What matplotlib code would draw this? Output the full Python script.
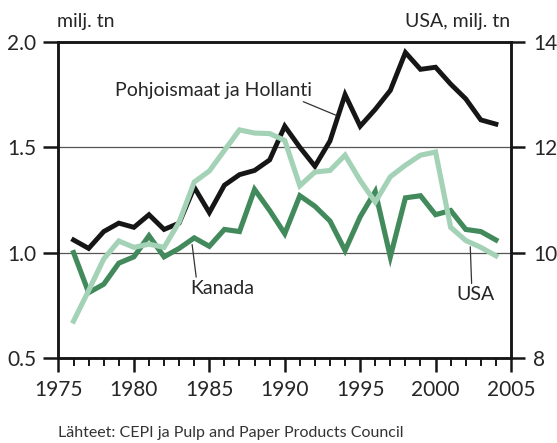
import matplotlib
matplotlib.use('Agg')
import matplotlib.pyplot as plt
from matplotlib.ticker import MultipleLocator

plt.rcParams['font.family'] = ['Lato', 'DejaVu Sans']

years = list(range(1976, 2005))
# Pohjoismaat ja Hollanti, milj. tn (left axis)
nordic = [1.06, 1.02, 1.10, 1.14, 1.12, 1.18, 1.11, 1.14, 1.31, 1.19,
          1.32, 1.37, 1.39, 1.44, 1.60, 1.50, 1.41, 1.53, 1.75, 1.60,
          1.68, 1.77, 1.95, 1.87, 1.88, 1.80, 1.73, 1.63, 1.61]
# Kanada, milj. tn (left axis)
kanada = [1.00, 0.81, 0.85, 0.95, 0.98, 1.08, 0.98, 1.02, 1.07, 1.03,
          1.11, 1.10, 1.30, 1.20, 1.09, 1.27, 1.22, 1.15, 1.01, 1.17,
          1.29, 0.98, 1.26, 1.27, 1.18, 1.20, 1.11, 1.10, 1.06]
# USA, milj. tn (right axis)
usa = [8.70, 9.28, 9.88, 10.22, 10.10, 10.16, 10.10, 10.58, 11.34, 11.55,
       11.94, 12.33, 12.27, 12.26, 12.13, 11.27, 11.53, 11.56, 11.85, 11.37,
       10.96, 11.44, 11.66, 11.85, 11.91, 10.48, 10.23, 10.10, 9.94]

left_ticks = [0.5, 1.0, 1.5, 2.0]
right_ticks = [8, 10, 12, 14]

BLACK = '#161616'
DARK_GREEN = '#428a5c'
LIGHT_GREEN = '#a3d2b6'

fig = plt.figure(figsize=(5.57, 4.43), dpi=100)
ax = fig.add_axes([0.105, 0.192, 0.8124, 0.7133])
ax2 = ax.twinx()

ax.plot(years, kanada, color=DARK_GREEN, lw=3.7, solid_joinstyle='miter')
ax.plot(years, nordic, color=BLACK, lw=3.5, solid_joinstyle='miter')
ax2.plot(years, usa, color=LIGHT_GREEN, lw=3.7, solid_joinstyle='miter')

ax.set_xlim(1975, 2005)
ax.set_ylim(0.5, 2.0)
ax2.set_ylim(8, 14)
ax.set_yticks(left_ticks)
ax.set_yticklabels(['0.5', '1.0', '1.5', '2.0'])
ax2.set_yticks(right_ticks)
ax.xaxis.set_major_locator(MultipleLocator(5))
ax.xaxis.set_minor_locator(MultipleLocator(1))

ax.grid(axis='y', color='#555555', lw=0.9)
ax.set_axisbelow(True)

for a in (ax, ax2):
    for s in a.spines.values():
        s.set_linewidth(1.8)
        s.set_color(BLACK)

tick_col = '#262626'
ax.tick_params(axis='y', direction='out', length=11, width=1.8, labelsize=15, pad=5,
               color=BLACK, labelcolor=tick_col)
ax.tick_params(axis='x', which='major', direction='out', length=10, width=1.8, labelsize=15, pad=6,
               color=BLACK, labelcolor=tick_col)
ax.tick_params(axis='x', which='minor', direction='out', length=5.5, width=1.4, color=BLACK)
ax2.tick_params(axis='y', direction='out', length=10, width=1.8, labelsize=15, pad=6,
                color=BLACK, labelcolor=tick_col)

lab_color = '#262626'
ax.annotate('Pohjoismaat ja Hollanti', xy=(1993.4, 1.652), xytext=(1985.3, 1.77),
            ha='center', va='center', fontsize=14, color=lab_color,
            arrowprops=dict(arrowstyle='-', color='#333333', lw=0.9,
                            shrinkA=0, shrinkB=0, relpos=(0.92, 0.0)))
ax.annotate('Kanada', xy=(1983.86, 1.038), xytext=(1985.85, 0.83),
            ha='center', va='center', fontsize=14, color=lab_color,
            arrowprops=dict(arrowstyle='-', color='#333333', lw=0.9,
                            shrinkA=0, shrinkB=0, relpos=(0.1, 1.0)))
ax.annotate('USA', xy=(2002.3, 1.028), xytext=(2002.65, 0.80),
            ha='center', va='center', fontsize=14, color=lab_color,
            arrowprops=dict(arrowstyle='-', color='#333333', lw=0.9,
                            shrinkA=0, shrinkB=0, relpos=(0.4, 1.0)))

fig.text(57 / 557, 1 - 22 / 443, 'milj. tn', ha='left', va='center', fontsize=14, color=lab_color)
fig.text(510 / 557, 1 - 22 / 443, 'USA, milj. tn', ha='right', va='center', fontsize=14, color=lab_color)
fig.text(58 / 557, 1 - 433 / 443, 'Lähteet: CEPI ja Pulp and Paper Products Council',
         ha='left', va='center', fontsize=11.5, color='#333333')

fig.savefig('out.png', dpi=100)
